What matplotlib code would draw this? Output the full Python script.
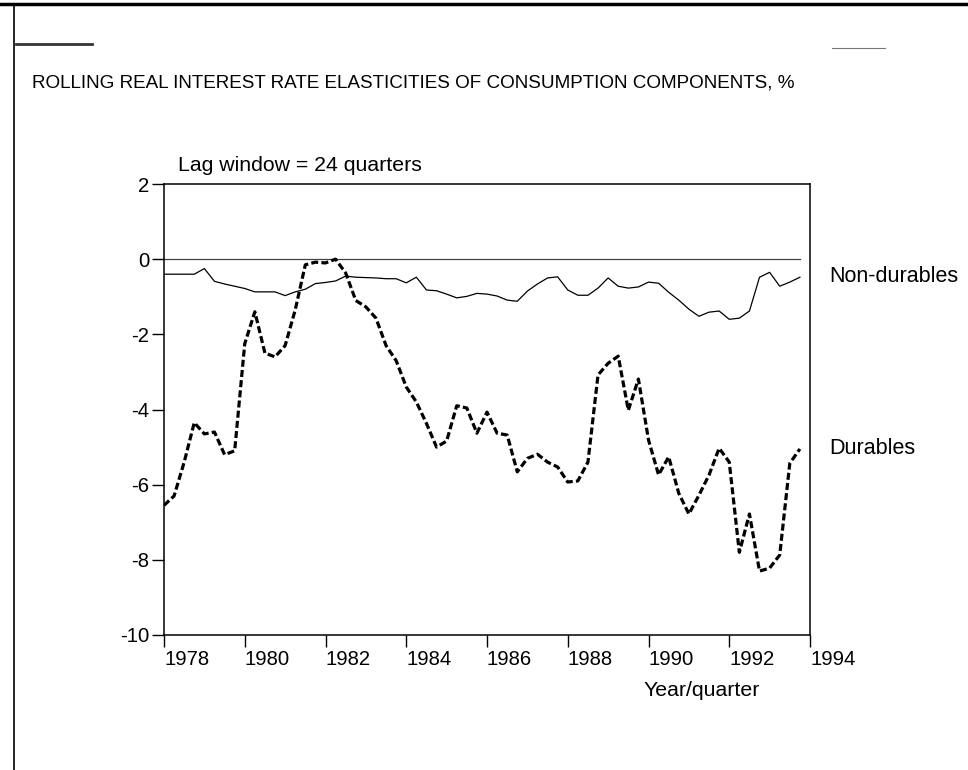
import numpy as np
import matplotlib
matplotlib.use("Agg")
import matplotlib.pyplot as plt
from matplotlib import font_manager
from matplotlib.lines import Line2D

# quarterly data, 1978Q1 - 1993Q4
start_year = 1978
durables = [-6.55, -6.3, -5.4, -4.35, -4.65, -4.6, -5.2, -5.1,
            -2.25, -1.4, -2.5, -2.6, -2.3, -1.35, -0.15, -0.08,
            -0.1, 0.0, -0.37, -1.1, -1.27, -1.57, -2.3, -2.7,
            -3.4, -3.8, -4.37, -5.0, -4.84, -3.9, -3.96, -4.63,
            -4.07, -4.63, -4.68, -5.66, -5.3, -5.19, -5.4, -5.53,
            -5.93, -5.9, -5.4, -3.08, -2.77, -2.58, -4.02, -3.19,
            -4.81, -5.74, -5.26, -6.23, -6.78, -6.28, -5.74, -5.03,
            -5.4, -7.8, -6.78, -8.3, -8.22, -7.87, -5.43, -5.05]
non_durables = [-0.4, -0.4, -0.4, -0.4, -0.25, -0.59, -0.66, -0.72,
                -0.78, -0.87, -0.87, -0.87, -0.97, -0.87, -0.8, -0.65,
                -0.62, -0.58, -0.45, -0.48, -0.49, -0.5, -0.52, -0.52,
                -0.63, -0.48, -0.82, -0.84, -0.93, -1.03, -0.99, -0.91,
                -0.93, -0.98, -1.09, -1.12, -0.85, -0.66, -0.5, -0.47,
                -0.82, -0.96, -0.96, -0.77, -0.5, -0.72, -0.77, -0.74,
                -0.61, -0.64, -0.88, -1.09, -1.33, -1.52, -1.41, -1.38,
                -1.6, -1.57, -1.38, -0.48, -0.35, -0.72, -0.61, -0.48]
x_ticks = [1978, 1980, 1982, 1984, 1986, 1988, 1990, 1992, 1994]
y_ticks = [2, 0, -2, -4, -6, -8, -10]

t = start_year + np.arange(len(durables)) / 4.0

names = {f.name for f in font_manager.fontManager.ttflist}
base_font = "Liberation Sans" if "Liberation Sans" in names else "DejaVu Sans"
plt.rcParams["font.family"] = [base_font, "DejaVu Sans"]
plt.rcParams["axes.unicode_minus"] = False

W, H = 968, 770
fig = plt.figure(figsize=(W / 100, H / 100), dpi=100)
ax = fig.add_axes([164 / W, 1 - 635 / H, (810 - 164) / W, (635 - 184) / H])

ax.axhline(0, color="#444444", linewidth=0.9, xmax=0.985)
ax.plot(t, non_durables, color="black", linewidth=0.9)
ax.plot(t, durables, color="black", linewidth=2.3, dashes=(2.2, 1.0))

ax.set_xlim(1978, 1994)
ax.set_ylim(-10, 2)
ax.set_xticks(x_ticks)
ax.set_yticks(y_ticks)
ax.tick_params(direction="out", length=8.6, width=1, labelsize=14.6, pad=2)
for lab in ax.get_xticklabels():
    lab.set_horizontalalignment("left")
for sp in ax.spines.values():
    sp.set_linewidth(1.1)

ax.text(1978.35, 2.5, "Lag window = 24 quarters", fontsize=15.3, va="center", ha="left")
ax.text(1994.47, -0.45, "Non-durables", fontsize=15.5, va="center", ha="left", clip_on=False)
ax.text(1994.47, -5.05, "Durables", fontsize=15.5, va="center", ha="left", clip_on=False)
fig.text(643 / W, 1 - 690 / H, "Year/quarter", fontsize=15.3, va="center", ha="left")

title = fig.text(32 / W, 1 - 83 / H,
                 "ROLLING REAL INTEREST RATE ELASTICITIES OF CONSUMPTION COMPONENTS, %",
                 fontsize=16, va="center", ha="left")
# fit the title to its width in the scan
fig.canvas.draw()
w = title.get_window_extent().width
title.set_fontsize(16 * 770 / w)

# page frame from the scan
fig.add_artist(Line2D([0, 1], [1 - 4 / H, 1 - 4 / H], color="black", linewidth=2.5))
fig.add_artist(Line2D([14 / W, 14 / W], [0, 1 - 4 / H], color="black", linewidth=1.2))
fig.add_artist(Line2D([16 / W, 92 / W], [1 - 44 / H, 1 - 44 / H], color="#333333", linewidth=2))
fig.add_artist(Line2D([832 / W, 885 / W], [1 - 48 / H, 1 - 48 / H], color="#777777", linewidth=0.8))

fig.savefig("out.png", dpi=100)
